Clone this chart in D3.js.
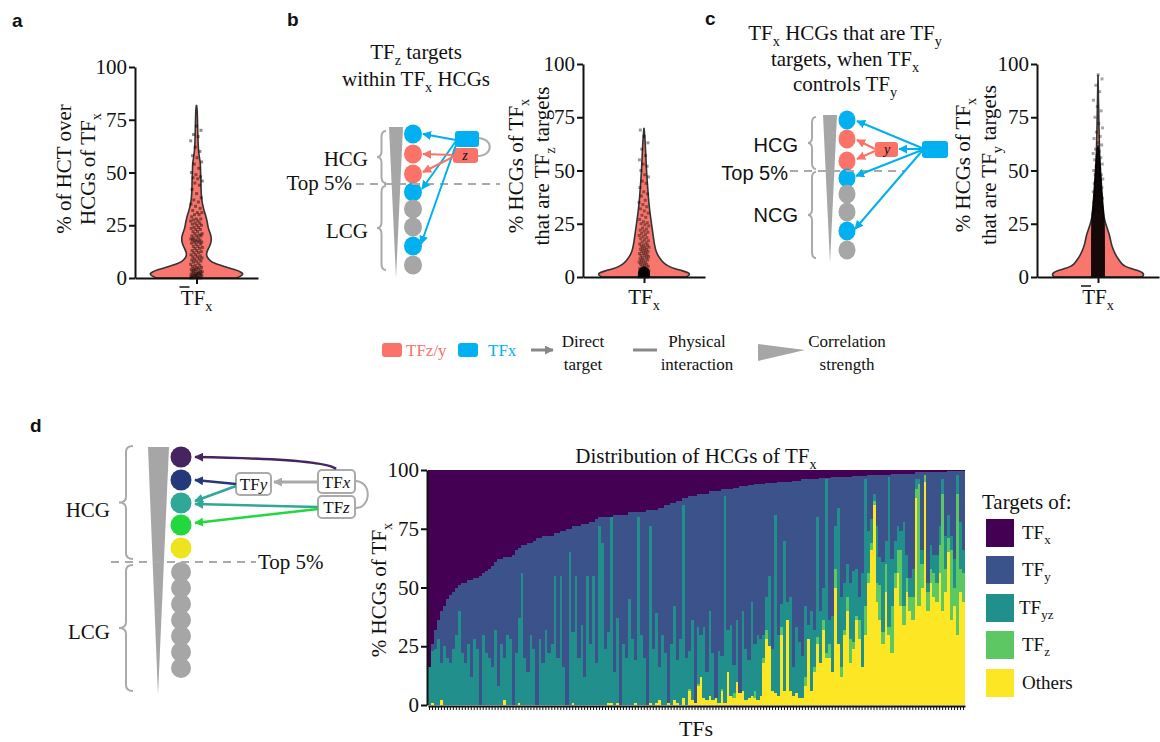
<!DOCTYPE html>
<html>
<head>
<meta charset="utf-8">
<script src="https://cdn.jsdelivr.net/npm/d3@7"></script>
<style>
  body { margin: 0; background: #fff; }
</style>
</head>
<body>
<svg id="fig" width="1160" height="742"></svg>
<script>
// ---- data ----
var yTicks = [0, 25, 50, 75, 100];

// violin outlines: [value, half width in px]
var violinA = [[0,40],[1,45],[2,47],[3,44],[4,38],[5,31],[6,24],[7,18],[8,14],[10,10],[12,10],[14,12],[16,14],[18,15],[20,14.5],[22,13],[24,11.5],[26,11],[28,10],[30,9],[32,7.5],[35,6],[38,5],[42,4.5],[46,4.5],[50,4],[54,4],[57,3],[60,2],[65,1.5],[70,1.2],[75,1],[80,0.7],[82,0]];
var violinB = [[0,42],[1,46],[2,45],[3,38],[4,30],[5,25],[6,21],[8,17],[10,14],[12,12],[15,10.5],[20,9],[25,7.5],[30,6],[35,4.8],[40,4],[45,3.2],[50,2.5],[55,2],[60,1.5],[65,1],[70,0]];
var violinC = [[0,44],[1,46],[2,45],[3,40],[4,33],[5,27],[6,24],[8,21],[10,18],[13,15],[16,13],[20,11.5],[23,9],[26,7],[30,5],[40,3],[50,2],[60,1.5],[70,1],[80,0.6],[95,0]];
// dense black cores of the point clouds
var coreB = [[0,6],[2.5,6],[4,5],[5,0.5]];
var coreC = [[0,7],[28,7],[32,6],[38,5],[45,4],[52,3],[58,2],[62,0.5]];

var pointsA = [0,0,0,0,0.5,0.5,0.5,1,1,1,1,1.5,1.5,1.5,2,2,2,2,2.5,2.5,3,3,3,3.5,3.5,4,4,4.5,4.5,5,5,5.5,6,6,6.5,7,7.5,8,8,8.5,9,9,9.5,10,10,10.5,11,11,12,12,12.5,13,13,14,14,14.5,15,15,16,16,16.5,17,17,17,17.5,18,18,18,18.5,19,19,20,20,20,20.5,21,21,22,22,23,23,23.5,24,24,25,25,25.5,26,26,27,27,27.5,28,28,29,30,30,31,31,32,33,34,35,36,37,38,40,42,44,45,46,47,47.5,48,49,50,52,54,55,57,58,60,62,65,67,68,70,72];
var pointsB = [0,0,0,0,0.3,0.5,0.5,0.8,1,1,1,1.2,1.5,1.5,1.8,2,2,2,2.3,2.5,2.8,3,3,3.3,3.5,4,4,4.5,5,5,5.5,6,6,6.5,7,7,7.5,8,8,8.5,9,9,9.5,10,10,10.5,11,11,11.5,12,12,12.5,13,13,13.5,14,14,14.5,15,15,15.5,16,16.5,17,17.5,18,18.5,19,19.5,20,20.5,21,21.5,22,22.5,23,24,24.5,25,25.5,26,27,28,29,30,31,32,33,34,35,36,38,39,40,42,44,45,47,48,50,52,53,55,57,60,63,66,69];
var pointsC = [30,31,32,33,34,35,35,36,37,38,38,39,40,40,41,42,42,43,44,45,45,46,47,48,48,49,50,51,52,53,54,55,56,57,58,59,60,62,63,65,66,68,70,72,75,78,80,83,87,90,93,95];

// panel d: per-TF percentages of HCGs (TFy is the remainder up to 100)
var tfx = [84,74,68,64,60,58,55,53,52,50,
  49,48,48,47,47,46,46,45,44,43,
  42,41,39,38,38,37,37,37,36,34,
  33,32,32,31,31,30,29,29,28,28,
  28,28,27,27,26,26,25,25,24,24,
  24,23,23,23,22,22,21,20,20,20,
  20,20,19,19,19,19,19,18,18,18,
  18,18,18,17,17,17,17,16,16,15,
  15,14,14,13,13,12,12,11,11,11,
  10,10,10,10,9,9,9,9,8,8,
  8,8,7.5,7.5,7,7,7,6.5,6.5,6,
  6,6,6,5.5,5.5,5.5,5.5,5,5,5,
  5,5,4.5,4.5,4.5,4,4,4,4,4,
  4,3.5,3.5,3.5,3.5,3,3,3,3,3,
  3,3,2.5,2.5,2.5,2.5,2.5,2,2,2,
  2,2,2,2,2,1.5,1.5,1.5,1.5,1.5,
  1.5,1.5,1.5,1,1,1,1,1,1,1,
  1,1,1,1,0.5,0.5,0.5,0.5,0.5,0.5];
var tfyz = [16,22,24,28,16,25,20,18,24,30,
  40,22,18,26,12,28,24,0,30,22,
  20,16,32,8,26,18,30,28,0,22,
  36,56,20,14,30,24,0,28,18,32,
  22,26,55,20,55,16,0,65,30,55,
  20,34,12,55,26,55,18,76,69,24,
  30,79,14,36,0,26,20,45,28,18,
  80,30,20,0,75,24,38,14,30,22,
  0,26,40,18,28,82,20,16,34,0,
  24,18,30,12,36,20,0,22,14,88,
  18,30,12,26,0,34,22,16,40,20,
  28,24,10,14,30,18,76,26,10,64,
  8,40,12,28,24,18,30,6,34,16,
  51,22,14,74,10,24,18,58,30,20,
  14,24,30,20,10,40,54,18,10,3,
  24,12,30,10,64,20,14,10,8,36,
  10,8,12,4,2,6,0,4,10,8,
  12,8,6,14,10,6,12,8,20,10];
var tfz = [0,0,0,0,0,0,0,0,0,0,
  0,0,0,0,0,0,0,0,0,0,
  0,0,0,0,0,0,0,0,0,0,
  0,0,0,0,0,0,0,0,0,0,
  0,0,0,0,0,0,0,0,0,0,
  0,0,0,0,0,0,0,0,0,0,
  0,0,0,0,0,0,0,0,0,0,
  0,0,0,0,0,0,0,0,0,0,
  0,0,0,0,0,0,0,1,0,0,
  1,0,0,0,0,0,0,0,1,0,
  0,0,2,0,0,0,0,0,0,3,
  0,0,2,4,0,0,0,0,3,0,
  0,0,0,0,0,0,4,0,0,2,
  3,0,4,2,6,0,8,0,4,2,
  6,10,3,2,8,0,12,4,3,2,
  8,15,5,12,3,20,6,10,24,8,
  6,6,10,4,52,10,3,8,6,10,
  8,12,50,10,6,30,8,60,10,12];
var others = [0,1,0,0,2,0,0,0,0,0,
  0,0,0,0,0,0,0,0,0,0,
  0,0,0,0,0,2,0,0,0,0,
  1,0,0,0,0,0,0,0,0,0,
  0,0,0,0,0,0,0,0,1,0,
  0,0,0,0,0,0,0,0,0,0,
  1,1,0,1,0,0,0,0,0,1,
  0,0,0,0,1,0,1,2,0,0,
  1,0,2,1,0,3,0,6,2,1,
  8,12,3,2,4,2,3,1,6,1,
  14,4,3,10,5,6,2,3,4,3,
  2,4,18,28,25,6,5,4,30,6,
  36,6,4,5,3,3,8,28,6,14,
  26,18,32,20,20,14,50,26,12,30,
  40,18,24,36,28,16,30,52,66,85,
  44,36,26,48,30,22,50,56,42,34,
  48,40,36,88,42,50,95,40,52,46,
  44,56,40,48,65,36,42,30,48,44];

var stackKeys = ["others", "tfz", "tfyz", "tfy", "tfx"];
var stackColors = {tfx: "#440154", tfy: "#3b528b", tfyz: "#21908d", tfz: "#5dc863", others: "#fde725"};
var legendItems = [
  {key: "tfx", sub: "x"}, {key: "tfy", sub: "y"}, {key: "tfyz", sub: "yz"},
  {key: "tfz", sub: "z"}, {key: "others", sub: null}
];

// ---- helpers ----
var SERIF = "'Liberation Serif','Times New Roman',serif";
var SANS = "'Liberation Sans',Arial,sans-serif";
var RED = "#fa7268", BLUE = "#00b0f0", GREY = "#a6a6a6";
var FS = 21;

var svg = d3.select("#fig");
var defs = svg.append("defs");

function marker(id, color) {
  defs.append("marker").attr("id", id)
    .attr("viewBox", "0 0 10 10").attr("refX", 9).attr("refY", 5)
    .attr("markerWidth", 9).attr("markerHeight", 9)
    .attr("markerUnits", "userSpaceOnUse").attr("orient", "auto")
    .append("path").attr("d", "M0,0 L10,5 L0,10 z").attr("fill", color);
}
marker("mBlue", BLUE); marker("mRed", RED); marker("mGrey", "#888");
marker("mGrey2", "#aaa");
marker("mPur", "#45245f"); marker("mNavy", "#24387c");
marker("mTeal", "#30a797"); marker("mGreen", "#22d83c");

// text with optional subscript / italic parts
function label(g, x, y, parts, o) {
  o = o || {};
  var size = o.size || FS;
  var t = g.append("text").attr("x", x).attr("y", y)
    .style("font-size", size + "px").style("font-family", o.sans ? SANS : SERIF)
    .attr("text-anchor", o.anchor || "start")
    .attr("fill", o.fill || "#111");
  if (o.weight) t.style("font-weight", o.weight);
  if (o.rotate) t.attr("transform", "rotate(-90," + x + "," + y + ")");
  var shift = 0;
  parts.forEach(function (p) {
    var s = typeof p === "string" ? p : p[0];
    var k = typeof p === "string" ? "" : p[1];
    var ts = t.append("tspan").text(s);
    var want = k === "sub" ? size * 0.28 : 0;
    if (want !== shift) { ts.attr("dy", want - shift); shift = want; }
    if (k === "sub") ts.style("font-size", (size * 0.68) + "px");
    if (k === "it") ts.style("font-style", "italic");
  });
  return t;
}

function brace(g, x, y0, y1, w) {
  var xm = x + w / 2, xr = x + w, ym = (y0 + y1) / 2, c = 6;
  var p = "M" + xr + "," + y0 + " Q" + xm + "," + y0 + " " + xm + "," + (y0 + c) +
    " L" + xm + "," + (ym - c) + " Q" + xm + "," + ym + " " + x + "," + ym +
    " Q" + xm + "," + ym + " " + xm + "," + (ym + c) +
    " L" + xm + "," + (y1 - c) + " Q" + xm + "," + y1 + " " + xr + "," + y1;
  g.append("path").attr("d", p).attr("fill", "none").attr("stroke", "#aaa").attr("stroke-width", 2);
}

function arrow(g, d, color, id, w) {
  g.append("path").attr("d", d).attr("fill", "none").attr("stroke", color)
    .attr("stroke-width", w || 2).attr("marker-end", "url(#" + id + ")");
}

function styleAxis(sel) {
  sel.select(".domain").attr("stroke", "#111").attr("stroke-width", 2);
  sel.selectAll(".tick line").attr("stroke", "#111").attr("stroke-width", 2);
  sel.selectAll(".tick text").style("font-family", SERIF).style("font-size", FS + "px").attr("fill", "#111");
}

// ---- violin panels ----
function violinPanel(o) {
  var g = svg.append("g");
  var y = d3.scaleLinear().domain([0, 100]).range([o.yBottom, o.yTop]);
  var x = d3.scalePoint().domain(["TFx"]).range([o.xLeft, o.xRight]).padding(0.5);
  var w = d3.scaleLinear().domain([0, 50]).range([0, 50]);
  var cx = x("TFx");

  var area = d3.area().curve(d3.curveBasis)
    .y(function (d) { return y(d[0]); })
    .x0(function (d) { return cx - w(d[1]); })
    .x1(function (d) { return cx + w(d[1]); });

  g.append("path").datum(o.profile).attr("d", area)
    .attr("fill", "#f8766d").attr("stroke", "#333").attr("stroke-width", 1.6);

  if (o.core) {
    g.append("path").datum(o.core).attr("d", area).attr("fill", "#000").attr("opacity", 0.92);
  }
  g.selectAll("rect.pt").data(o.points).join("rect").attr("class", "pt")
    .attr("x", function (d, i) { return cx - 1.5 + (((i * 0.618034) % 1) - 0.5) * 2 * o.jitter; })
    .attr("y", function (d) { return y(d) - 1.5; })
    .attr("width", 3).attr("height", 3).attr("fill", "#000").attr("opacity", o.alpha);

  g.append("g").attr("transform", "translate(" + o.xLeft + ",0)")
    .call(d3.axisLeft(y).tickValues(yTicks).tickSize(6).tickSizeOuter(0).tickPadding(2))
    .call(styleAxis);
  g.append("g").attr("transform", "translate(0," + o.yBottom + ")")
    .call(d3.axisBottom(x).tickSize(6).tickSizeOuter(0).tickFormat(""))
    .call(styleAxis);

  label(g, cx, o.yBottom + 27, ["TF", ["x", "sub"]], {anchor: "middle"});
  if (o.overline) {
    g.append("line").attr("x1", cx - 17).attr("x2", cx - 7)
      .attr("y1", o.yBottom + 9).attr("y2", o.yBottom + 9)
      .attr("stroke", "#111").attr("stroke-width", 1.5);
  }
  o.ylabel.forEach(function (l) {
    label(g, l.x, o.labelY, l.parts, {anchor: "middle", rotate: true});
  });
}

violinPanel({
  xLeft: 135, xRight: 258, yBottom: 278, yTop: 67, profile: violinA,
  points: pointsA, jitter: 6, alpha: 0.45, overline: true, labelY: 169,
  ylabel: [{x: 71, parts: ["% of HCT over"]}, {x: 95, parts: ["HCGs of TF", ["x", "sub"]]}]
});
violinPanel({
  xLeft: 583, xRight: 705, yBottom: 277, yTop: 64, profile: violinB, core: coreB,
  points: pointsB, jitter: 5, alpha: 0.4, overline: false, labelY: 166,
  ylabel: [{x: 523, parts: ["% HCGs of TF", ["x", "sub"]]}, {x: 549, parts: ["that are  TF", ["z", "sub"], " targets"]}]
});
violinPanel({
  xLeft: 1037, xRight: 1159, yBottom: 277, yTop: 64, profile: violinC, core: coreC,
  points: pointsC, jitter: 5, alpha: 0.35, overline: true, labelY: 165,
  ylabel: [{x: 970, parts: ["% HCGs of TF", ["x", "sub"]]}, {x: 996, parts: ["that are  TF", ["y", "sub"], " targets"]}]
});

// ---- panel letters ----
[["a", 12, 27], ["b", 287, 26], ["c", 705, 25], ["d", 30, 432]].forEach(function (l) {
  label(svg, l[1], l[2], [l[0]], {sans: true, weight: "bold", size: 19});
});

// ---- panel b diagram ----
var gb = svg.append("g");
label(gb, 416, 59, ["TF", ["z", "sub"], " targets"], {anchor: "middle"});
label(gb, 416, 86, ["within TF", ["x", "sub"], " HCGs"], {anchor: "middle"});
gb.append("polygon").attr("points", "389,127 403,127 396,278").attr("fill", GREY);
var bCircles = [BLUE, RED, RED, BLUE, GREY, GREY, BLUE, GREY];
var bY = [134, 154, 174, 192, 209, 227, 246, 265];
bCircles.forEach(function (c, i) {
  gb.append("ellipse").attr("cx", 413).attr("cy", bY[i]).attr("rx", 9).attr("ry", 9.5).attr("fill", c);
});
brace(gb, 377, 131, 183, 9);
brace(gb, 377, 186, 270, 9);
label(gb, 368, 166, ["HCG"], {anchor: "end"});
label(gb, 352, 190, ["Top 5%"], {anchor: "end"});
label(gb, 368, 238, ["LCG"], {anchor: "end"});
gb.append("line").attr("x1", 356).attr("x2", 500).attr("y1", 184).attr("y2", 184)
  .attr("stroke", "#aaa").attr("stroke-width", 2).attr("stroke-dasharray", "8,6");
gb.append("path").attr("d", "M477,138 C494,138 494,156 477,156").attr("fill", "none").attr("stroke", "#aaa").attr("stroke-width", 2);
gb.append("rect").attr("x", 455).attr("y", 131).attr("width", 24).attr("height", 16).attr("rx", 3).attr("fill", BLUE);
gb.append("rect").attr("x", 453).attr("y", 148).attr("width", 25).attr("height", 15).attr("rx", 3).attr("fill", RED);
label(gb, 465, 160, [["z", "it"]], {anchor: "middle", size: 14});
arrow(gb, "M456,140 L423,134", BLUE, "mBlue");
arrow(gb, "M456,141 L422,189", BLUE, "mBlue");
arrow(gb, "M457,142 L421,244", BLUE, "mBlue");
arrow(gb, "M453,155 L423,154", RED, "mRed");
arrow(gb, "M453,157 L423,172", RED, "mRed");

// ---- panel c diagram ----
var gc = svg.append("g");
label(gc, 845, 40, ["TF", ["x", "sub"], " HCGs that are TF", ["y", "sub"]], {anchor: "middle"});
label(gc, 845, 66, ["targets, when TF", ["x", "sub"]], {anchor: "middle"});
label(gc, 845, 91, ["controls TF", ["y", "sub"]], {anchor: "middle"});
gc.append("polygon").attr("points", "823,115 837,115 830,263").attr("fill", GREY);
var cY = [120, 139, 161, 178, 194, 212, 231, 250];
bCircles.forEach(function (c, i) {
  gc.append("ellipse").attr("cx", 847).attr("cy", cY[i]).attr("rx", 8.5).attr("ry", 9.5).attr("fill", c);
});
brace(gc, 808, 117, 169, 8);
brace(gc, 808, 172, 258, 8);
label(gc, 798, 152, ["HCG"], {anchor: "end", sans: true, size: 20});
label(gc, 788, 180, ["Top 5%"], {anchor: "end", sans: true, size: 20});
label(gc, 798, 222, ["NCG"], {anchor: "end", sans: true, size: 20});
gc.append("line").attr("x1", 790).attr("x2", 905).attr("y1", 171).attr("y2", 171)
  .attr("stroke", "#aaa").attr("stroke-width", 2).attr("stroke-dasharray", "8,6");
gc.append("rect").attr("x", 875).attr("y", 142).attr("width", 23).attr("height", 15).attr("rx", 3).attr("fill", RED);
label(gc, 887, 154, [["y", "it"]], {anchor: "middle", size: 14});
gc.append("rect").attr("x", 922).attr("y", 141).attr("width", 26).attr("height", 17).attr("rx", 3).attr("fill", BLUE);
arrow(gc, "M922,148 L857,121", BLUE, "mBlue");
arrow(gc, "M922,149 L899,149", BLUE, "mBlue");
arrow(gc, "M922,150 L856,176", BLUE, "mBlue");
arrow(gc, "M922,151 L855,229", BLUE, "mBlue");
arrow(gc, "M875,149 L857,140", RED, "mRed");
arrow(gc, "M875,151 L857,159", RED, "mRed");

// ---- shared legend row ----
var gl = svg.append("g");
gl.append("rect").attr("x", 382).attr("y", 343).attr("width", 20).attr("height", 14).attr("rx", 3).attr("fill", RED);
label(gl, 406, 356, ["TFz/y"], {size: 17, fill: RED});
gl.append("rect").attr("x", 458).attr("y", 343).attr("width", 20).attr("height", 14).attr("rx", 3).attr("fill", BLUE);
label(gl, 488, 356, ["TFx"], {size: 17, fill: BLUE});
arrow(gl, "M531,350 L553,350", "#888", "mGrey", 3);
label(gl, 583, 347, ["Direct"], {size: 17, anchor: "middle"});
label(gl, 583, 370, ["target"], {size: 17, anchor: "middle"});
gl.append("line").attr("x1", 633).attr("x2", 657).attr("y1", 350).attr("y2", 350).attr("stroke", "#888").attr("stroke-width", 3);
label(gl, 697, 347, ["Physical"], {size: 17, anchor: "middle"});
label(gl, 697, 370, ["interaction"], {size: 17, anchor: "middle"});
gl.append("polygon").attr("points", "758,344 758,361 805,350").attr("fill", GREY);
label(gl, 847, 347, ["Correlation"], {size: 17, anchor: "middle"});
label(gl, 847, 370, ["strength"], {size: 17, anchor: "middle"});

// ---- panel d diagram ----
var gd = svg.append("g");
gd.append("polygon").attr("points", "148,447 169,447 158,695").attr("fill", GREY);
var dCircles = ["#45245f", "#24387c", "#30a797", "#22d83c", "#ede31e"];
var dY = [457, 480, 503, 525, 548];
dCircles.forEach(function (c, i) {
  gd.append("circle").attr("cx", 181).attr("cy", dY[i]).attr("r", 10.5).attr("fill", c);
});
[572, 588, 604, 620, 636, 652, 668].forEach(function (yy) {
  gd.append("circle").attr("cx", 181).attr("cy", yy).attr("r", 10).attr("fill", GREY);
});
brace(gd, 119, 446, 559, 14);
brace(gd, 119, 565, 691, 14);
label(gd, 110, 517, ["HCG"], {anchor: "end"});
label(gd, 110, 639, ["LCG"], {anchor: "end"});
gd.append("line").attr("x1", 111).attr("x2", 256).attr("y1", 562).attr("y2", 562)
  .attr("stroke", "#aaa").attr("stroke-width", 2).attr("stroke-dasharray", "8,6");
label(gd, 258, 569, ["Top 5%"]);
gd.append("path").attr("d", "M355,481 C372,481 372,508 355,508").attr("fill", "none").attr("stroke", "#aaa").attr("stroke-width", 2);
[[318, 470, 37, 23, "x"], [318, 496, 37, 22, "z"], [236, 473, 35, 22, "y"]].forEach(function (b) {
  gd.append("rect").attr("x", b[0]).attr("y", b[1]).attr("width", b[2]).attr("height", b[3]).attr("rx", 4)
    .attr("fill", "#fff").attr("stroke", "#aaa").attr("stroke-width", 2);
  label(gd, b[0] + b[2] / 2, b[1] + b[3] / 2 + 6, ["TF", [b[4], "it"]], {anchor: "middle", size: 17});
});
arrow(gd, "M336,469 Q325,459 195,457", "#45245f", "mPur", 2.5);
arrow(gd, "M236,484 L195,480", "#24387c", "mNavy", 2.5);
arrow(gd, "M318,482 L274,482", "#aaa", "mGrey2", 3);
arrow(gd, "M236,486 L195,501", "#30a797", "mTeal", 2.5);
arrow(gd, "M318,507 L195,504", "#30a797", "mTeal", 2.5);
arrow(gd, "M318,509 L195,523", "#22d83c", "mGreen", 2.5);

// ---- panel d stacked bars ----
var rows = tfx.map(function (v, i) {
  return {id: i, tfx: v, tfyz: tfyz[i], tfz: tfz[i], others: others[i],
    tfy: 100 - v - tfyz[i] - tfz[i] - others[i]};
});
var xb = d3.scaleBand().domain(rows.map(function (d) { return d.id; })).range([428, 965]).padding(0);
var yb = d3.scaleLinear().domain([0, 100]).range([705, 470]);
var series = d3.stack().keys(stackKeys)(rows);

var gs = svg.append("g");
gs.selectAll("g.layer").data(series).join("g").attr("class", "layer")
  .attr("fill", function (s) { return stackColors[s.key]; })
  .selectAll("rect").data(function (s) { return s; }).join("rect")
  .attr("x", function (d) { return xb(d.data.id); })
  .attr("width", xb.bandwidth() + 0.35)
  .attr("y", function (d) { return yb(d[1]); })
  .attr("height", function (d) { return Math.max(0, yb(d[0]) - yb(d[1])); })
  .attr("shape-rendering", "crispEdges");

gs.append("g").attr("transform", "translate(427,0)")
  .call(d3.axisLeft(yb).tickValues(yTicks).tickSize(6).tickSizeOuter(0).tickPadding(2))
  .call(styleAxis);
gs.append("g").attr("transform", "translate(0,706)")
  .call(d3.axisBottom(xb).tickSize(4).tickSizeOuter(0).tickFormat(""))
  .call(styleAxis)
  .call(function (a) { a.selectAll(".tick line").attr("stroke-width", 1); });

label(gs, 696, 463, ["Distribution of HCGs of TF", ["x", "sub"]], {anchor: "middle"});
label(gs, 696, 736, ["TFs"], {anchor: "middle", size: 22});
label(gs, 386, 590, ["% HCGs of TF", ["x", "sub"]], {anchor: "middle", rotate: true});

// legend
var gleg = svg.append("g");
label(gleg, 982, 509, ["Targets of:"]);
var legY = [519, 556, 594, 631, 669];
legendItems.forEach(function (it, i) {
  gleg.append("rect").attr("x", 986).attr("y", legY[i]).attr("width", 28).attr("height", 28)
    .attr("fill", stackColors[it.key]);
  var parts = it.sub ? ["TF", [it.sub, "sub"]] : ["Others"];
  label(gleg, it.sub === "yz" ? 1019 : 1022, legY[i] + 20, parts, {size: 19});
});
</script>
</body>
</html>
